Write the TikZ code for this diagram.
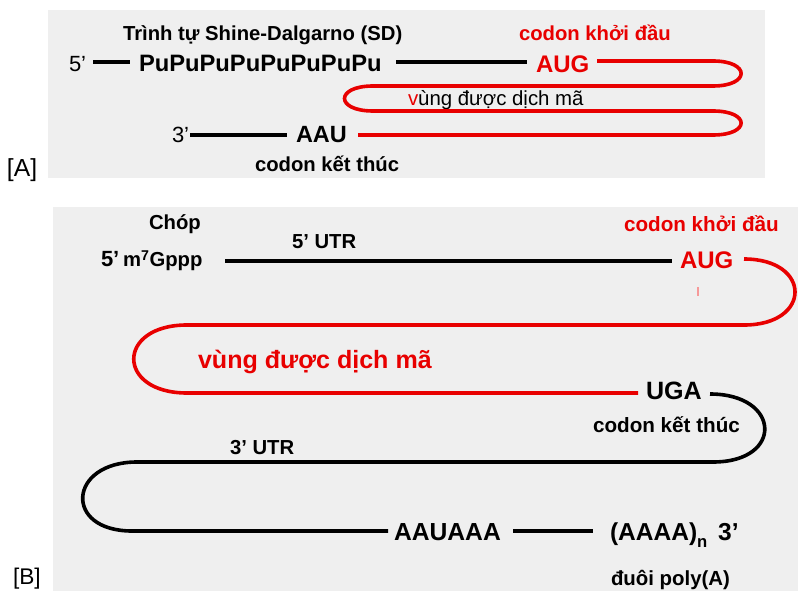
\documentclass[tikz,border=0pt]{standalone}
\usepackage{fontspec}
\setmainfont{Liberation Sans}
\definecolor{rd}{RGB}{232,0,0}
\definecolor{bgc}{RGB}{239,239,239}
\begin{document}
\begin{tikzpicture}[x=0.75pt,y=-0.75pt,
  lbl/.style={anchor=base west, inner sep=0pt, outer sep=0pt},
  smb/.style={lbl, font=\fontsize{15.2pt}{18pt}\selectfont\bfseries},
  bigb/.style={lbl, font=\fontsize{18pt}{21pt}\selectfont\bfseries},
  regt/.style={lbl, font=\fontsize{16.5pt}{20pt}\selectfont},
  strand/.style={line width=2.7pt},
  blk/.style={strand, black},
  redl/.style={strand, rd}]
\useasboundingbox (0,0) rectangle (798,591);
% backgrounds
\fill[bgc] (48,10) rectangle (765,178);
\fill[bgc] (53,207) rectangle (798,591);

% ---------------- Panel A ----------------
\node[smb] (sd) at (123,41) {Trình tự Shine-Dalgarno (SD)};
\node[smb, text=rd] (startA) at (519,41) {codon khởi đầu};
\node[regt] (fiveA) at (69,72) {5’};
\node[bigb, font=\fontsize{17.8pt}{21pt}\selectfont\bfseries] (pu) at (139,72) {PuPuPuPuPuPuPuPu};
\node[bigb, text=rd] (augA) at (536,73) {AUG};
\node[lbl, font=\fontsize{15.3pt}{18pt}\selectfont] (vungA) at (408,106) {\textcolor{rd}{v}ùng được dịch mã};
\node[regt] (threeA) at (172,143) {3’};
\node[bigb, font=\fontsize{17.6pt}{21pt}\selectfont\bfseries] (aau) at (296,143) {AAU};
\node[smb] (stopA) at (255,172) {codon kết thúc};
\node[lbl, font=\fontsize{18.5pt}{22pt}\selectfont] (labA) at (7,177) {[A]};

\coordinate (a1) at (93,62);  \coordinate (a2) at (130,62);
\coordinate (a3) at (396,62); \coordinate (a4) at (527,62);
\coordinate (a5) at (597,61); \coordinate (a6) at (713,61);
\coordinate (a7) at (713,86); \coordinate (a8) at (373,86);
\coordinate (a9) at (373,111); \coordinate (a10) at (713,111);
\coordinate (a11) at (713,135); \coordinate (a12) at (358,135);
\coordinate (a13) at (190,135); \coordinate (a14) at (287,135);
\draw[blk] (a1) -- (a2);
\draw[blk] (a3) -- (a4);
\draw[blk] (a13) -- (a14);
\draw[redl] (a5) -- (a6) .. controls +(37.5,0) and +(37.5,0) .. (a7) -- (a8)
  .. controls +(-38,0) and +(-38,0) .. (a9) -- (a10)
  .. controls +(37.5,0) and +(37.5,0) .. (a11) -- (a12);

% ---------------- Panel B ----------------
\node[smb] (chop) at (149,230) {Chóp};
\node[smb] (utr5) at (292,249) {5’ UTR};
\node[lbl, font=\fontsize{16.5pt}{20pt}\selectfont\bfseries] (fiveB) at (101,267) {5’};
\node[smb] (cap) at (123,267) {m\textsuperscript{7}Gppp};
\node[bigb, text=rd] (augB) at (680,268) {AUG};
\node[smb, font=\fontsize{15.5pt}{18pt}\selectfont\bfseries, text=rd] (startB) at (624,232) {codon khởi đầu};
\node[bigb, font=\fontsize{18.8pt}{22pt}\selectfont\bfseries, text=rd] (vungB) at (198,368) {vùng được dịch mã};
\node[bigb, font=\fontsize{18.8pt}{22pt}\selectfont\bfseries] (uga) at (646,399) {UGA};
\node[smb, font=\fontsize{15.5pt}{18pt}\selectfont\bfseries] (stopB) at (593,432) {codon kết thúc};
\node[smb] (utr3) at (230,454) {3’ UTR};
\node[bigb, font=\fontsize{18.5pt}{22pt}\selectfont\bfseries] (aauaaa) at (394,540) {AAUAAA};
\node[bigb, font=\fontsize{18.4pt}{22pt}\selectfont\bfseries] (polyA) at (610,540)
  {(AAAA)\raisebox{-5.5pt}{\fontsize{12.5pt}{15pt}\selectfont n}\hspace{3pt} 3’};
\node[smb, font=\fontsize{15.3pt}{18pt}\selectfont\bfseries] (tail) at (611,585) {đuôi poly(A)};
\node[lbl, font=\fontsize{17pt}{20pt}\selectfont] (labB) at (13,584) {[B]};

\coordinate (b1) at (225,261); \coordinate (b2) at (672,261);
\coordinate (b3) at (744,259); \coordinate (b4) at (744,325);
\coordinate (b5) at (187,325); \coordinate (b6) at (187,393);
\coordinate (b7) at (638,393);
\coordinate (b8) at (710,394); \coordinate (b9) at (713,462);
\coordinate (b10) at (137,462); \coordinate (b11) at (132,531);
\coordinate (b12) at (388,531);
\coordinate (b13) at (513,531); \coordinate (b14) at (593,531);
\coordinate (t1) at (698,287); \coordinate (t2) at (698,296);
\draw[blk] (b1) -- (b2);
\draw[redl] (b3) .. controls +(68,0) and +(68,0) .. (b4) -- (b5)
  .. controls +(-71,0) and +(-71,0) .. (b6) -- (b7);
\draw[rd!40, line width=0.8pt] (t1) -- (t2);
\draw[blk] (b8) .. controls +(71,0) and +(71,0) .. (b9) -- (b10)
  .. controls +(-69,0) and +(-69,0) .. (b11) -- (b12);
\draw[blk] (b13) -- (b14);
\end{tikzpicture}
\end{document}
